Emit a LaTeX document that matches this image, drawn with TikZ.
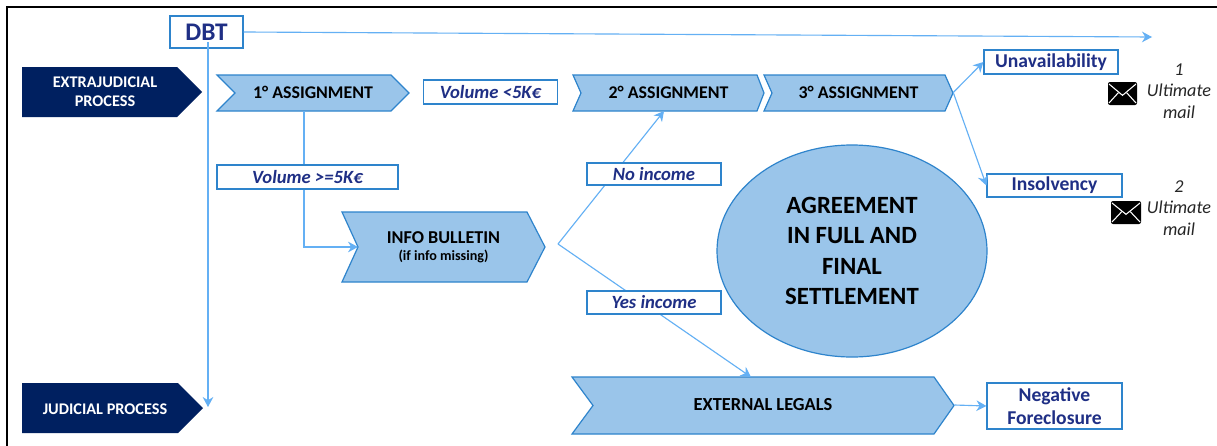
\documentclass[tikz,border=0pt]{standalone}
\usepackage{fontspec}
\setmainfont{Carlito}
\usetikzlibrary{arrows.meta,shapes.geometric}
\definecolor{navy}{HTML}{002060}
\definecolor{chevfill}{HTML}{9AC5EA}
\definecolor{chevline}{HTML}{2E84CC}
\definecolor{linkblue}{HTML}{64B0F4}
\definecolor{boxtext}{HTML}{1F2F85}
% \chev{left}{notch}{shoulder}{tip}{top}{bottom}{style}
\newcommand{\chev}[7]{%
  \path[#7] (#1,#5) -- (#3,#5) -- (#4,{(#5+#6)/2}) -- (#3,#6) -- (#1,#6) -- (#2,{(#5+#6)/2}) -- cycle;
}
% \envelope{left}{top}{right}{bottom}
\newcommand{\envelope}[4]{%
  \fill[black, rounded corners=1.5pt] (#1,#2) rectangle (#3,#4);
  \draw[white, line width=0.8pt] (#1+1,#2+2) -- ({(#1+#3)/2},{#2+(#4-#2)*0.58}) -- (#3-1,#2+2);
  \draw[white, line width=0.8pt] (#1+1,#4-2) -- ({#1+(#3-#1)*0.36},{#2+(#4-#2)*0.46});
  \draw[white, line width=0.8pt] (#3-1,#4-2) -- ({#1+(#3-#1)*0.64},{#2+(#4-#2)*0.46});
}
\tikzset{
  x=0.75pt, y=-0.75pt,
  sized/.style 2 args={minimum width=#1*0.75pt, minimum height=#2*0.75pt},
  chevron/.style={draw=chevline, line width=0.9pt, fill=chevfill, line join=miter},
  darkchev/.style={fill=navy},
  lbl/.style={inner sep=0pt, align=center},
  whitelbl/.style={lbl, text=white, font=\fontsize{12.2}{14.5}\selectfont\bfseries},
  blacklbl/.style={lbl, text=black, font=\fontsize{13.4}{15}\selectfont\bfseries},
  tagbox/.style={draw=chevline, line width=0.9pt, fill=white, inner sep=0pt, text=boxtext, align=center},
  tagbold/.style={tagbox, font=\fontsize{14.7}{17}\selectfont\bfseries},
  tagital/.style={tagbox, font=\fontsize{14}{15}\selectfont\bfseries\itshape},
  link/.style={draw=linkblue, line width=0.85pt, -{Stealth[length=7.5pt,width=8pt]}},
  mailtxt/.style={lbl, font=\fontsize{13.6}{16.2}\selectfont\itshape, text=black!85},
}
\begin{document}
\begin{tikzpicture}
\useasboundingbox (0,0) rectangle (1217,446);
\fill[white] (0,0) rectangle (1217,446);
% frame
\draw[black, line width=1.5pt] (7,446) -- (7,7) -- (1217,7);

% chevrons and ellipse
\chev{22}{22}{177}{202}{67}{117}{darkchev}
\node[whitelbl] (extra) at (105,92) {EXTRAJUDICIAL\\PROCESS};
\chev{22}{22}{178}{203}{383}{433}{darkchev}
\node[whitelbl] (jud) at (105,409) {JUDICIAL PROCESS};
\chev{217}{235}{391}{409}{75}{111}{chevron}
\node[blacklbl, sized={192}{36}] (one) at (313,92.5) {1° ASSIGNMENT};
\chev{573}{581}{757}{764}{75}{111}{chevron}
\node[blacklbl, sized={191}{36}] (two) at (668.5,92.5) {2° ASSIGNMENT};
\chev{764}{772}{945}{953}{75}{111}{chevron}
\node[blacklbl, sized={189}{36}] (three) at (858.5,92.5) {3° ASSIGNMENT};
\chev{342}{358}{527}{545}{212}{282}{chevron}
\node[lbl, sized={203}{70}] (info) at (443.5,247) {{\fontsize{13.6}{15}\selectfont\bfseries INFO BULLETIN}\\[1pt]{\fontsize{10.6}{11}\selectfont\bfseries (if info missing)}};
\chev{572}{593}{934}{954}{377}{434}{chevron}
\node[blacklbl, font=\fontsize{13.8}{15}\selectfont\bfseries, sized={382}{57}] (ext) at (763,405) {EXTERNAL LEGALS};
\node[ellipse, draw=chevline, line width=0.9pt, fill=chevfill, inner sep=0pt, sized={270}{212}, align=center,
      font=\fontsize{18.6}{22.8}\selectfont\bfseries] (agree) at (852,251)
      {AGREEMENT\\IN FULL AND\\FINAL\\SETTLEMENT};

% boxes that connectors end on
\node[tagbox, sized={73}{32}, font=\fontsize{19}{20}\selectfont\bfseries] (dbt) at (206.5,32) {DBT};
\node[tagbold, sized={134}{24}] (unav) at (1051,62) {Unavailability};
\node[tagbold, sized={135}{23}] (insol) at (1054.5,185.5) {\raisebox{-1pt}{Insolvency}};
\node[tagbold, sized={135}{46}] (neg) at (1054.5,406) {Negative\\Foreclosure};

% free ends
\coordinate (topend) at (1152,37);
\coordinate (dbtfoot) at (208,42);
\coordinate (judarrow) at (208,407);
\coordinate (onefoot) at (304,111);
\coordinate (elbow) at (304,247);
\coordinate (infonotch) at (358,247);
\coordinate (apex) at (558,244);
\coordinate (twofoot) at (664,111);
\coordinate (exthead) at (751,377);

% connectors
\draw[link] (dbt.east) -- (topend);
\draw[link] (dbtfoot) -- (judarrow);
\draw[link] (onefoot) -- (elbow) -- (infonotch);
\draw[link] (apex) -- (twofoot);
\draw[link] (apex) -- (exthead);
\draw[link] (three.east) -- (unav.west);
\draw[link] (three.east) -- (insol.west);
\draw[link] (ext.east) -- (neg.west);

% boxes sitting on the connectors
\node[tagital, sized={181}{24}] (volhi) at (307.5,177) {Volume >=5K€};
\node[tagital, sized={134}{24}] (vollo) at (490.5,92) {Volume <5K€};
\node[tagital, sized={134}{22}] (noinc) at (654,174) {No income};
\node[tagital, sized={134}{23}] (yesinc) at (654,302.5) {Yes income};

% mail
\envelope{1108}{82}{1137}{105}
\node[mailtxt] (mailone) at (1179,91) {1\\Ultimate\\mail};
\envelope{1111}{201}{1141}{224}
\node[mailtxt] (mailtwo) at (1179,208) {2\\Ultimate\\mail};
\end{tikzpicture}
\end{document}
